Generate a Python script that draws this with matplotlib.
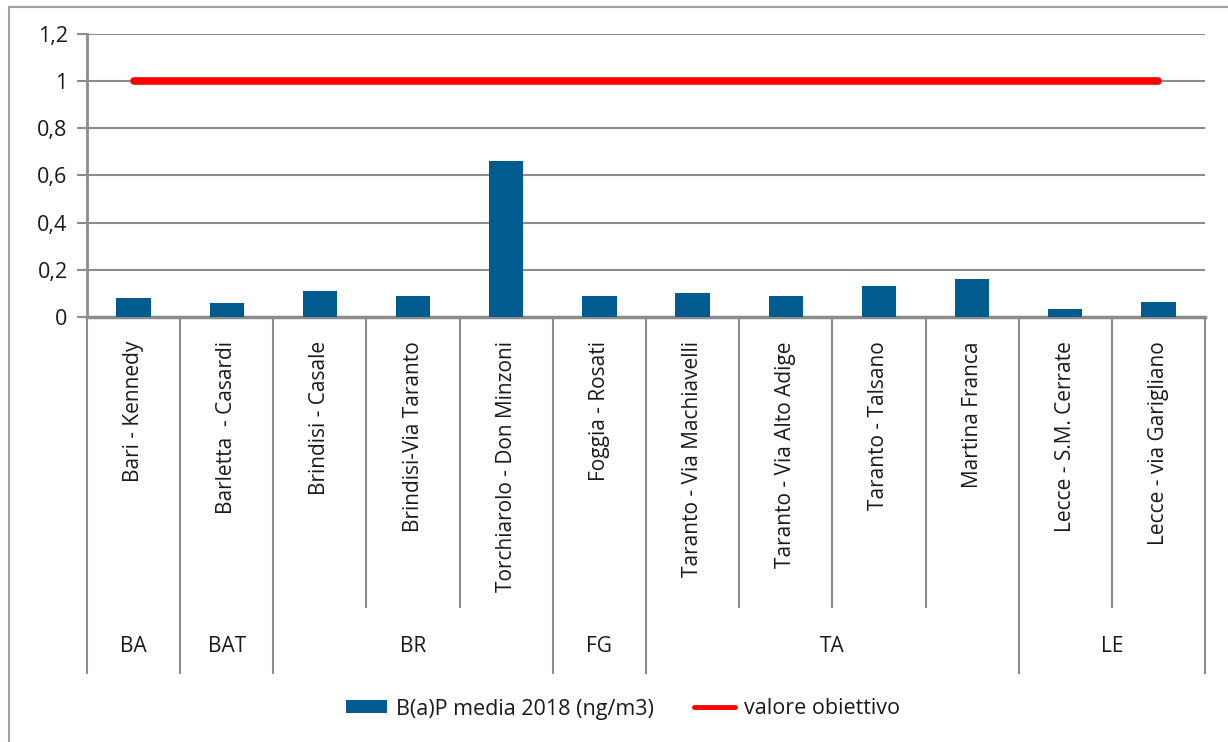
import numpy as np
import matplotlib
matplotlib.use('Agg')
import matplotlib.pyplot as plt
import matplotlib.transforms as mtransforms
from matplotlib.patches import Rectangle
from matplotlib.lines import Line2D

plt.rcParams['font.family'] = ['Open Sans', 'DejaVu Sans']

stazioni = ['Bari - Kennedy', 'Barletta  - Casardi', 'Brindisi - Casale', 'Brindisi-Via Taranto',
            'Torchiarolo - Don Minzoni', 'Foggia - Rosati', 'Taranto - Via Machiavelli',
            'Taranto - Via Alto Adige', 'Taranto - Talsano', 'Martina Franca',
            'Lecce - S.M. Cerrate', 'Lecce - via Garigliano']
province = ['BA', 'BAT', 'BR', 'FG', 'TA', 'LE']
n_per_provincia = [1, 1, 3, 1, 4, 2]
bap_2018 = [0.08, 0.06, 0.11, 0.09, 0.66, 0.09, 0.10, 0.09, 0.13, 0.16, 0.035, 0.065]
obiettivo = [1, 1, 1, 1, 1, 1, 1, 1, 1, 1, 1, 1]

blu = '#005b8f'
grigio = '#8c8c8c'
testo = '#1a1a1a'

fig = plt.figure(figsize=(12.28, 7.42), dpi=100)
W, H = 1228, 742
ax = fig.add_axes([87 / W, 1 - 317 / H, (1205 - 87) / W, (317 - 34) / H])

x = np.arange(len(stazioni))
barre = ax.bar(x, bap_2018, width=0.37, color=blu, zorder=3)
ax.plot(x, obiettivo, color='#ff0000', lw=5.5, solid_capstyle='round', zorder=4)

ax.set_xlim(-0.5, len(stazioni) - 0.5)
ax.set_ylim(0, 1.2)
ax.set_yticks([0, 0.2, 0.4, 0.6, 0.8, 1.0, 1.2])
ax.set_yticklabels(['0', '0,2', '0,4', '0,6', '0,8', '1', '1,2'])
ax.yaxis.grid(True, color=grigio, lw=1.5, zorder=0)
ax.tick_params(axis='y', length=7, width=1.5, color=grigio, labelsize=15.5, pad=7, labelcolor=testo)
ax.set_xticks([])
for s in ['top', 'right']:
    ax.spines[s].set_visible(False)
ax.spines['left'].set_color(grigio)
ax.spines['left'].set_linewidth(2)
ax.spines['bottom'].set_color(grigio)
ax.spines['bottom'].set_linewidth(2.5)

# etichette stazioni ruotate
trans = mtransforms.blended_transform_factory(ax.transData, fig.transFigure)
for i, nome in enumerate(stazioni):
    ax.text(i, 1 - 341 / H, nome, rotation=90, ha='center', va='top', fontsize=15,
            color=testo, transform=trans)

# separatori e province
confini = np.cumsum([0] + n_per_provincia) - 0.5
for b in np.arange(-0.5, len(stazioni)):
    fondo = 673 if b in confini else 607
    ax.plot([b, b], [1 - 317 / H, 1 - fondo / H], color=grigio, lw=1.5,
            transform=trans, clip_on=False)
for p, a, b in zip(province, confini[:-1], confini[1:]):
    ax.text((a + b) / 2, 1 - 647 / H, p, ha='center', va='center', fontsize=15,
            color=testo, transform=trans)

# cornice esterna
fig.patches.append(Rectangle((9 / W, -0.05), 1.1, 1 - 7 / H + 0.05, transform=fig.transFigure,
                             fill=False, edgecolor='#a0a0a0', lw=1.5))

h_linea = Line2D([], [], color='#ff0000', lw=3.5, solid_capstyle='round')
fig.legend([barre, h_linea], ['B(a)P media 2018 (ng/m3)', 'valore obiettivo'],
           loc='center', bbox_to_anchor=(623 / W, 1 - 709 / H), ncol=2, frameon=False,
           fontsize=15.5, handlelength=1.9, handleheight=0.55, columnspacing=1.9,
           handletextpad=0.4, labelcolor=testo)

fig.savefig('out.png', dpi=100)
